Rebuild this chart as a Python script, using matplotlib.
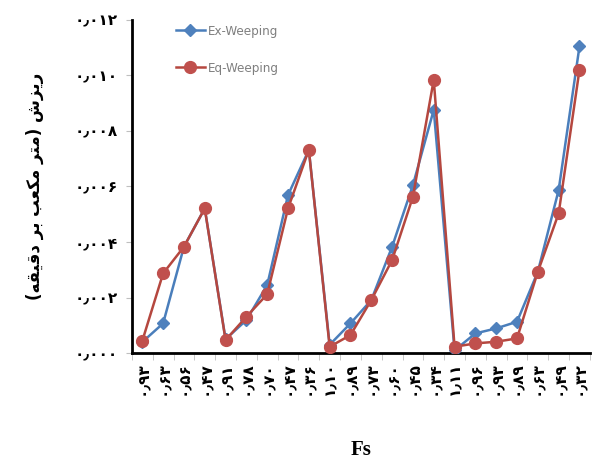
import numpy as np
import matplotlib
matplotlib.use("Agg")
import matplotlib.pyplot as plt
from matplotlib.ticker import FixedLocator

# Fs values (x categories)
fs_labels = ['0.93', '0.63', '0.56', '0.47',
             '0.91', '0.78', '0.70', '0.47', '0.36',
             '1.10', '0.89', '0.73', '0.60', '0.45', '0.34',
             '1.11', '0.96', '0.93', '0.89', '0.63', '0.49', '0.32']

ex_weeping = [0.00040, 0.00107, 0.00383, 0.00521,
              0.00050, 0.00119, 0.00245, 0.00569, 0.00732,
              0.00030, 0.00107, 0.00191, 0.00383, 0.00605, 0.00876,
              0.00010, 0.00071, 0.00089, 0.00113, 0.00293, 0.00587, 0.01104]

eq_weeping = [0.00044, 0.00287, 0.00383, 0.00521,
              0.00047, 0.00131, 0.00212, 0.00521, 0.00732,
              0.00023, 0.00065, 0.00191, 0.00335, 0.00563, 0.00984,
              0.00023, 0.00035, 0.00041, 0.00053, 0.00293, 0.00503, 0.01020]

y_ticks = [0.000, 0.002, 0.004, 0.006, 0.008, 0.010, 0.012]
y_title = 'ریزش (متر مکعب بر دقیقه)'
x_title = 'Fs'

# Persian digits with the Arabic decimal separator
FA_DIGITS = str.maketrans('0123456789.', '۰۱۲۳۴۵۶۷۸۹٫')


def to_fa(s):
    return s.translate(FA_DIGITS)


# contextual forms: isolated, final, initial, medial
FA_FORMS = {
    'ب': '\ufe8f\ufe90\ufe91\ufe92',
    'ت': '\ufe95\ufe96\ufe97\ufe98',
    'د': '\ufea9\ufeaa',
    'ر': '\ufead\ufeae',
    'ز': '\ufeaf\ufeb0',
    'ش': '\ufeb5\ufeb6\ufeb7\ufeb8',
    'ع': '\ufec9\ufeca\ufecb\ufecc',
    'ق': '\ufed5\ufed6\ufed7\ufed8',
    'ک': '\ufb8e\ufb8f\ufb90\ufb91',
    'م': '\ufee1\ufee2\ufee3\ufee4',
    'ه': '\ufee9\ufeea\ufeeb\ufeec',
    'ی': '\ufbfc\ufbfd\ufef3\ufef4',
}


def shape_fa(text):
    # matplotlib has no shaping / bidi, so do a tiny one by hand
    out = []
    for i, ch in enumerate(text):
        f = FA_FORMS.get(ch)
        if f is None:
            out.append(ch)
            continue
        prev = text[i - 1] if i > 0 else ''
        nxt = text[i + 1] if i + 1 < len(text) else ''
        join_prev = prev in FA_FORMS and len(FA_FORMS[prev]) == 4
        join_next = len(f) == 4 and nxt in FA_FORMS
        if join_prev and join_next:
            out.append(f[3])
        elif join_prev:
            out.append(f[1])
        elif join_next:
            out.append(f[2])
        else:
            out.append(f[0])
    s = ''.join(reversed(out))
    return s.translate(str.maketrans('()', ')('))


plt.rcParams['font.family'] = ['DejaVu Sans', 'Noto Sans']

fig = plt.figure(figsize=(6.05, 4.61), dpi=100)
ax = fig.add_axes([0.218, 0.234, 0.757, 0.723])

x = np.arange(len(fs_labels))
ax.plot(x, ex_weeping, color='#4a7ebb', lw=1.8, marker='D', ms=6,
        mfc='#4f81bd', mec='#4f81bd', label='Ex-Weeping', zorder=3)
ax.plot(x, eq_weeping, color='#b5473f', lw=1.8, marker='o', ms=8.5,
        mfc='#c0504d', mec='#c0504d', label='Eq-Weeping', zorder=4)

ax.set_xlim(-0.5, len(fs_labels) - 0.5)
ax.set_ylim(0, 0.012)

ax.set_yticks(y_ticks)
ax.set_yticklabels([to_fa('%.3f' % v) for v in y_ticks],
                   fontsize=11, fontweight='bold')
ax.set_xticks(x)
ax.set_xticklabels([to_fa(s) for s in fs_labels], rotation=90,
                   fontsize=11, fontweight='bold')
ax.xaxis.set_minor_locator(FixedLocator(np.arange(len(fs_labels) + 1) - 0.5))
ax.tick_params(axis='x', which='major', length=0, pad=6)
ax.tick_params(axis='x', which='minor', length=5, color='#bfbfbf')
ax.tick_params(axis='y', length=4, color='#bfbfbf', pad=6)

for side in ['top', 'right']:
    ax.spines[side].set_visible(False)
for side in ['left', 'bottom']:
    ax.spines[side].set_linewidth(2)
    ax.spines[side].set_color('black')

ax.set_ylabel(shape_fa(y_title), fontsize=12, fontweight='bold', labelpad=22)
ax.set_xlabel(x_title, fontsize=15, fontweight='bold',
              family='Liberation Serif', labelpad=32)

leg = ax.legend(loc='upper left', bbox_to_anchor=(0.07, 1.02), frameon=False,
                fontsize=9.5, labelspacing=1.8, handlelength=2.2,
                handletextpad=0.2)
for t in leg.get_texts():
    t.set_color('#7f7f7f')
    t.set_fontstretch('condensed')

fig.savefig('out.png', dpi=100)
